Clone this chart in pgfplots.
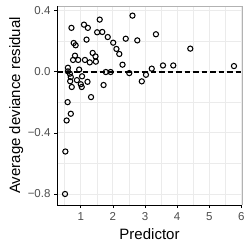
\documentclass[border=0pt]{standalone}
\usepackage{fontspec}
\setmainfont{Liberation Sans}
\usepackage{pgfplots}
\pgfplotsset{compat=1.18}
\definecolor{gridc}{HTML}{EBEBEB}
\definecolor{tickc}{HTML}{4D4D4D}
\begin{document}
\begin{tikzpicture}
\path[use as bounding box] (0,0) rectangle (250bp,250bp);
\begin{axis}[
  at={(57bp,45bp)}, anchor=south west,
  scale only axis, width=185bp, height=199bp,
  xmin=0.26, xmax=6.02, ymin=-0.872, ymax=0.43,
  xtick={1,2,3,4,5,6},
  minor xtick={0.5,1.5,2.5,3.5,4.5,5.5},
  ytick={-0.8,-0.4,0,0.4},
  yticklabels={−0.8,−0.4,0.0,0.4},
  minor ytick={-0.6,-0.2,0.2},
  grid=both,
  major grid style={gridc, line width=0.9bp},
  minor grid style={gridc, line width=0.45bp},
  axis line style={draw=none},
  tick align=outside,
  major tick length=3bp, minor tick length=0pt,
  tick style={black, line width=0.6bp},
  xtick pos=bottom, ytick pos=left,
  /pgf/number format/assume math mode=true,
  ticklabel style={font=\fontsize{11.5bp}{13bp}\selectfont, text=tickc},
  xticklabel style={yshift=-1bp},
  xlabel={Predictor},
  ylabel={Average deviance residual},
  label style={font=\fontsize{15bp}{17bp}\selectfont},
  xlabel style={at={(axis description cs:0.5,-0.171)}, anchor=base},
  ylabel style={at={(axis description cs:-0.2,0.5)}, anchor=base},
  clip=false,
]
\draw[gray!60, line width=0.6bp] (rel axis cs:0,1) -- (rel axis cs:1,1) -- (rel axis cs:1,0);
\draw[black, line width=0.8bp] (rel axis cs:0,1) -- (rel axis cs:0,0) -- (rel axis cs:1,0);
\addplot[black, line width=1.7bp, dash pattern=on 5.5bp off 3bp] coordinates {(0.26,0) (6.02,0)};
\addplot[only marks, mark=o, mark size=2.6bp, mark options={line width=1.05bp, black}] coordinates {
(0.71,0.287) (1.10,0.308) (1.22,0.287) (1.59,0.341) (2.61,0.367)
(1.51,0.258) (1.67,0.260) (0.78,0.188) (0.84,0.173) (1.18,0.21)
(1.84,0.227) (2.01,0.190) (2.11,0.149) (2.20,0.116) (2.40,0.216)
(2.76,0.205) (3.34,0.245) (4.41,0.151) (5.77,0.037) (3.56,0.041)
(3.88,0.041) (3.21,0.020) (3.03,-0.020) (2.90,-0.063) (2.51,-0.009)
(2.30,0.046) (1.78,-0.002) (1.93,-0.002) (1.71,-0.087) (1.37,0.123)
(1.46,0.100) (1.28,0.061) (1.47,0.066) (1.13,0.077) (0.82,0.105)
(0.76,0.077) (0.92,0.077) (0.60,0.026) (0.60,0.002) (0.66,-0.013)
(0.95,0.014) (1.04,-0.030) (0.69,-0.035) (0.88,-0.055) (0.67,-0.062)
(1.00,-0.082) (1.21,-0.066) (0.72,-0.100) (1.03,-0.100)
(1.32,-0.166) (0.59,-0.199) (0.69,-0.275) (0.56,-0.319) (0.52,-0.522)
(0.51,-0.80)
};
\end{axis}
\end{tikzpicture}
\end{document}
